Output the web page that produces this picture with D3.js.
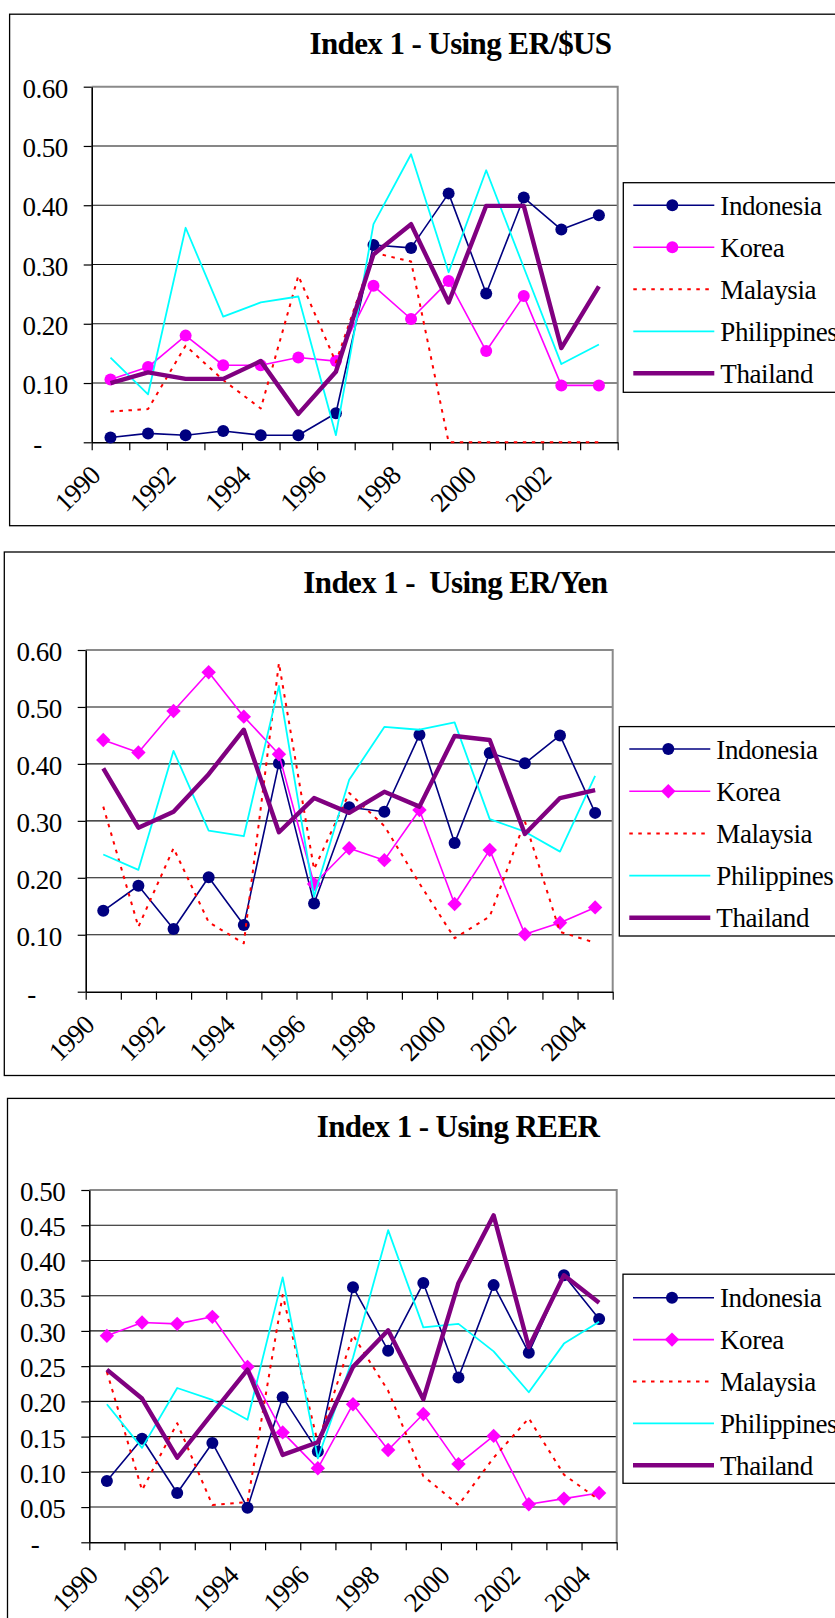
<!DOCTYPE html>
<html>
<head>
<meta charset="utf-8">
<script src="https://cdn.jsdelivr.net/npm/d3@7"></script>
<style>
  html, body { margin: 0; padding: 0; background: #fff; overflow: hidden; }
  svg { display: block; }
  text { font-family: "Liberation Serif", "Times New Roman", Times, serif; white-space: pre; fill: #000; }
</style>
</head>
<body>
<svg id="chart" width="835" height="1618"></svg>
<script>
// ---- categories and tick values ----
const years14 = ["1990","1991","1992","1993","1994","1995","1996","1997","1998","1999","2000","2001","2002","2003"];
const years15 = ["1990","1991","1992","1993","1994","1995","1996","1997","1998","1999","2000","2001","2002","2003","2004"];
const countries = ["Indonesia", "Korea", "Malaysia", "Philippines", "Thailand"];
const ticksTenths = [0, 0.1, 0.2, 0.3, 0.4, 0.5, 0.6];
const ticksTwentieths = [0, 0.05, 0.1, 0.15, 0.2, 0.25, 0.3, 0.35, 0.4, 0.45, 0.5];

// ---- Index 1 using ER/$US (1990-2003) ----
const usIndonesia   = [0.008, 0.015, 0.012, 0.019, 0.012, 0.012, 0.049, 0.333, 0.328, 0.420, 0.251, 0.413, 0.359, 0.383];
const usKorea       = [0.106, 0.127, 0.180, 0.130, 0.130, 0.143, 0.137, 0.264, 0.208, 0.272, 0.154, 0.247, 0.096, 0.096];
const usMalaysia    = [0.052, 0.056, 0.163, 0.105, 0.057, 0.281, 0.135, 0.320, 0.305, 0.000, 0.000, 0.000, 0.000, 0.000];
const usPhilippines = [0.143, 0.081, 0.362, 0.212, 0.236, 0.246, 0.012, 0.368, 0.486, 0.287, 0.459, 0.295, 0.132, 0.165];
const usThailand    = [0.100, 0.118, 0.107, 0.107, 0.137, 0.048, 0.119, 0.317, 0.368, 0.236, 0.399, 0.399, 0.159, 0.263];

// ---- Index 1 using ER/Yen (1990-2004) ----
const yenIndonesia   = [0.142, 0.186, 0.110, 0.201, 0.117, 0.401, 0.155, 0.324, 0.316, 0.451, 0.261, 0.419, 0.401, 0.450, 0.314];
const yenKorea       = [0.442, 0.420, 0.493, 0.561, 0.483, 0.417, 0.189, 0.252, 0.231, 0.319, 0.154, 0.249, 0.101, 0.121, 0.148];
const yenMalaysia    = [0.325, 0.114, 0.252, 0.122, 0.085, 0.577, 0.215, 0.349, 0.291, 0.190, 0.094, 0.132, 0.299, 0.105, 0.086];
const yenPhilippines = [0.241, 0.214, 0.423, 0.283, 0.273, 0.537, 0.167, 0.372, 0.465, 0.460, 0.473, 0.303, 0.281, 0.246, 0.379];
const yenThailand    = [0.392, 0.288, 0.316, 0.382, 0.460, 0.280, 0.340, 0.314, 0.351, 0.325, 0.449, 0.442, 0.277, 0.340, 0.354];

// ---- Index 1 using REER (1990-2004) ----
const reerIndonesia   = [0.087, 0.147, 0.070, 0.141, 0.049, 0.206, 0.129, 0.362, 0.272, 0.368, 0.234, 0.365, 0.269, 0.379, 0.317];
const reerKorea       = [0.293, 0.312, 0.310, 0.320, 0.249, 0.156, 0.105, 0.196, 0.131, 0.182, 0.111, 0.151, 0.054, 0.062, 0.070];
const reerMalaysia    = [0.242, 0.074, 0.169, 0.053, 0.057, 0.351, 0.141, 0.294, 0.215, 0.094, 0.053, 0.120, 0.176, 0.096, 0.060];
const reerPhilippines = [0.196, 0.134, 0.219, 0.202, 0.174, 0.376, 0.119, 0.262, 0.443, 0.305, 0.310, 0.271, 0.213, 0.282, 0.313];
const reerThailand    = [0.245, 0.204, 0.120, 0.183, 0.245, 0.124, 0.142, 0.249, 0.301, 0.203, 0.368, 0.464, 0.277, 0.379, 0.340];

// ---- series appearance ----
const seriesStyle = {
  Indonesia:   { color: "#000080", width: 1.6, dash: null,  marker: "circle" },
  Korea:       { color: "#FF00FF", width: 1.6, dash: null,  marker: "circle" },
  Malaysia:    { color: "#FF0000", width: 2.0, dash: "3.5 5.5", marker: null },
  Philippines: { color: "#00FFFF", width: 1.8, dash: null,  marker: null },
  Thailand:    { color: "#800080", width: 4.4, dash: null,  marker: null }
};

// ---- panel definitions ----
const panels = [
  {
    title: "Index 1 - Using ER/$US",
    cats: years14, ticks: ticksTenths, yMax: 0.6, koreaMarker: "circle",
    values: [usIndonesia, usKorea, usMalaysia, usPhilippines, usThailand],
    frame: { x: 9.6, y: 14.2, bottom: 525.7 },
    plot: { left: 91.7, right: 617.7, top: 86.7, bottom: 442.3 },
    titleAt: { x: 460.5, y: 53.5 },
    legend: { x: 623.3, y: 182.7, h: 209.6, first: 205.3, gap: 42.0 }
  },
  {
    title: "Index 1 -  Using ER/Yen",
    cats: years15, ticks: ticksTenths, yMax: 0.6, koreaMarker: "diamond",
    values: [yenIndonesia, yenKorea, yenMalaysia, yenPhilippines, yenThailand],
    frame: { x: 4.3, y: 552.0, bottom: 1075.5 },
    plot: { left: 85.7, right: 612.7, top: 650.0, bottom: 991.7 },
    titleAt: { x: 455.3, y: 593.4 },
    legend: { x: 619.3, y: 726.6, h: 209.4, first: 749.0, gap: 42.2 }
  },
  {
    title: "Index 1 - Using REER",
    cats: years15, ticks: ticksTwentieths, yMax: 0.5, koreaMarker: "diamond",
    values: [reerIndonesia, reerKorea, reerMalaysia, reerPhilippines, reerThailand],
    frame: { x: 7.5, y: 1098.4, bottom: 1660 },
    plot: { left: 89.3, right: 616.7, top: 1190.0, bottom: 1542.3 },
    titleAt: { x: 458.0, y: 1137.1 },
    legend: { x: 623.0, y: 1274.2, h: 209.1, first: 1297.7, gap: 41.9 }
  }
];

const svg = d3.select("#chart");
svg.append("rect").attr("width", 835).attr("height", 1618).attr("fill", "#fff");

function drawMarker(g, kind, cx, cy, color) {
  if (kind === "circle") {
    g.append("circle").attr("cx", cx).attr("cy", cy).attr("r", 6).attr("fill", color);
  } else if (kind === "diamond") {
    const s = 7.2;
    g.append("path")
      .attr("d", `M${cx},${cy - s}L${cx + s},${cy}L${cx},${cy + s}L${cx - s},${cy}Z`)
      .attr("fill", color);
  }
}

panels.forEach(p => {
  const g = svg.append("g");
  const n = p.cats.length;

  // outer chart frame (its right edge runs past the page)
  g.append("rect")
    .attr("x", p.frame.x).attr("y", p.frame.y)
    .attr("width", 1000).attr("height", p.frame.bottom - p.frame.y)
    .attr("fill", "#fff").attr("stroke", "#000").attr("stroke-width", 1.3);

  // title
  g.append("text")
    .attr("x", p.titleAt.x).attr("y", p.titleAt.y)
    .attr("text-anchor", "middle")
    .attr("font-size", 31).attr("font-weight", "bold")
    .attr("letter-spacing", -0.6)
    .text(p.title);

  // scales
  const x = d3.scaleBand().domain(p.cats).range([p.plot.left, p.plot.right]).padding(0);
  const xEdge = d3.scaleLinear().domain([0, n]).range([p.plot.left, p.plot.right]);
  const y = d3.scaleLinear().domain([0, p.yMax]).range([p.plot.bottom, p.plot.top]);
  const cx = c => x(c) + x.bandwidth() / 2;

  // horizontal gridlines
  g.append("g").selectAll("line")
    .data(p.ticks.filter(t => t > 0 && t < p.yMax - 1e-9))
    .join("line")
    .attr("x1", p.plot.left).attr("x2", p.plot.right)
    .attr("y1", d => y(d)).attr("y2", d => y(d))
    .attr("stroke", "#111").attr("stroke-width", 1.1);

  // plot-area border (top and right)
  g.append("path")
    .attr("d", `M${p.plot.left},${p.plot.top}H${p.plot.right}V${p.plot.bottom}`)
    .attr("fill", "none").attr("stroke", "#8a8a8a").attr("stroke-width", 2);

  // y axis
  const yAxis = g.append("g")
    .attr("transform", `translate(${p.plot.left},0)`)
    .call(d3.axisLeft(y).tickValues(p.ticks).tickSize(8).tickSizeOuter(0).tickPadding(16)
      .tickFormat(v => v === 0 ? "-" : d3.format(".2f")(v)));
  yAxis.select(".domain").attr("stroke", "#000").attr("stroke-width", 1.6);
  yAxis.selectAll(".tick line").attr("stroke", "#000").attr("stroke-width", 1.2);
  yAxis.selectAll(".tick text")
    .attr("font-size", 27).attr("dy", "0.39em")
    .attr("letter-spacing", -0.5)
    .attr("x", v => v === 0 ? -50 : -24);
  yAxis.attr("font-family", null).attr("font-size", null);

  // x axis tick marks at category edges
  const xAxis = g.append("g")
    .attr("transform", `translate(0,${p.plot.bottom})`)
    .call(d3.axisBottom(xEdge).tickValues(d3.range(n + 1)).tickSize(8).tickSizeOuter(0).tickFormat(""));
  xAxis.select(".domain").attr("stroke", "#000").attr("stroke-width", 1.6);
  xAxis.selectAll(".tick line").attr("stroke", "#000").attr("stroke-width", 1.2);

  // rotated year labels on every other category
  g.append("g").selectAll("text")
    .data(p.cats.filter((c, i) => i % 2 === 0))
    .join("text")
    .attr("x", c => x(c) + 10)
    .attr("y", p.plot.bottom + 35)
    .attr("transform", c => `rotate(-45,${x(c) + 10},${p.plot.bottom + 35})`)
    .attr("text-anchor", "end")
    .attr("font-size", 27)
    .attr("letter-spacing", -0.8)
    .text(c => c);

  // series lines and markers
  const line = d3.line().x((d, i) => cx(p.cats[i])).y(d => y(d));
  countries.forEach((name, k) => {
    const st = seriesStyle[name];
    const vals = p.values[k];
    const marker = name === "Korea" ? p.koreaMarker : st.marker;
    g.append("path")
      .datum(vals)
      .attr("d", line)
      .attr("fill", "none")
      .attr("stroke", st.color)
      .attr("stroke-width", st.width)
      .attr("stroke-linejoin", "round")
      .attr("stroke-dasharray", st.dash);
    if (marker) {
      const mg = g.append("g");
      vals.forEach((v, i) => drawMarker(mg, marker, cx(p.cats[i]), y(v), st.color));
    }
  });

  // legend
  const L = p.legend;
  g.append("rect")
    .attr("x", L.x).attr("y", L.y).attr("width", 400).attr("height", L.h)
    .attr("fill", "#fff").attr("stroke", "#000").attr("stroke-width", 1.3);
  countries.forEach((name, k) => {
    const st = seriesStyle[name];
    const ry = L.first + k * L.gap;
    const marker = name === "Korea" ? p.koreaMarker : st.marker;
    g.append("line")
      .attr("x1", L.x + 10).attr("x2", L.x + 91).attr("y1", ry).attr("y2", ry)
      .attr("stroke", st.color).attr("stroke-width", st.width)
      .attr("stroke-dasharray", st.dash);
    if (marker) drawMarker(g, marker, L.x + 49, ry, st.color);
    g.append("text")
      .attr("x", L.x + 97).attr("y", ry + 9.5)
      .attr("font-size", 27)
      .attr("letter-spacing", -0.4)
      .text(name);
  });
});
</script>
</body>
</html>
